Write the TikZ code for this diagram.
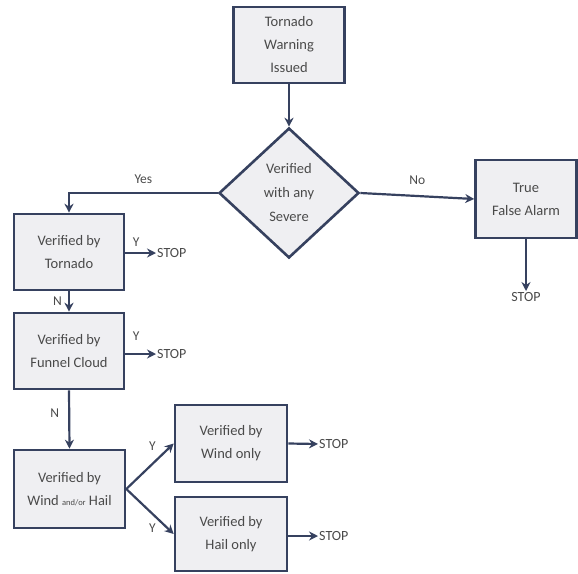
\documentclass[tikz,border=0pt]{standalone}
\usepackage{fontspec}
\setmainfont{Carlito}
\usetikzlibrary{shapes.geometric,arrows.meta}
\definecolor{bordercol}{HTML}{36415F}
\definecolor{fillcol}{HTML}{EFEFF2}
\definecolor{textcol}{HTML}{4A4A4A}
\tikzset{
  box/.style={draw=bordercol, fill=fillcol, line width=2.6pt, inner sep=0pt,
    align=center, text=textcol, font=\fontsize{14.5}{23}\selectfont},
  decision/.style={shape=diamond, draw=bordercol, fill=fillcol, line width=2.6pt,
    inner sep=0pt, align=center, text=textcol, font=\fontsize{14.5}{24}\selectfont,
    minimum width=140pt, minimum height=130pt},
  conn/.style={draw=bordercol, line width=2.2pt, -{Stealth[length=9pt,width=9pt]}},
  lbl/.style={text=textcol, font=\fontsize{13.5}{15}\selectfont, inner sep=1pt},
  stoplbl/.style={text=textcol, font=\fontsize{14}{15}\selectfont, inner sep=1pt}
}
\begin{document}
\begin{tikzpicture}[x=1pt,y=-1pt]
\useasboundingbox (0,0) rectangle (578,573);
\node[box, minimum width=111pt, minimum height=76pt] (warn) at (289,45) {Tornado\\Warning\\Issued};
\node[decision] (sev) at (289,193) {Verified\\with any\\Severe};
\node[box, minimum width=101pt, minimum height=78pt] (fa) at (526,199) {True\\False Alarm};
\node[stoplbl, anchor=north] (stopfa) at (526,291) {STOP};
\node[box, minimum width=110pt, minimum height=76pt] (tor) at (69,252) {Verified by\\Tornado};
\node[box, minimum width=110pt, minimum height=76pt] (fun) at (69,351) {Verified by\\Funnel Cloud};
\node[box, minimum width=111pt, minimum height=78pt] (wh) at (69.5,489) {Verified by\\Wind {\fontsize{8.5}{10}\selectfont and/or} Hail};
\node[box, minimum width=112pt, minimum height=77pt] (wind) at (231,443.5) {Verified by\\Wind only};
\node[box, minimum width=112pt, minimum height=74pt] (hail) at (231,534) {Verified by\\Hail only};
\node[stoplbl, anchor=west] (stop1) at (156,253) {STOP};
\node[stoplbl, anchor=west] (stop2) at (156,354) {STOP};
\node[stoplbl, anchor=west] (stop3) at (318,444) {STOP};
\node[stoplbl, anchor=west] (stop4) at (318,536) {STOP};

\draw[conn] (warn.south) -- (sev.north);
\draw[conn] (sev.east) -- (fa.west) node[lbl, pos=0.5, above=9pt] (no) {No};
\draw[conn] (sev.west) -| (tor.north) node[lbl, pos=0.25, above=7pt] (yes) {Yes};
\draw[conn] (fa.south) -- (stopfa.north);
\draw[conn] (tor.east |- stop1) -- (stop1.west) node[lbl, pos=0.35, above=4pt] (y1) {Y};
\draw[conn] (fun.east |- stop2) -- (stop2.west) node[lbl, pos=0.35, above=11pt] (y2) {Y};
\draw[conn] (tor.south) -- (fun.north) node[lbl, midway, left=5pt] (n1) {N};
\draw[conn] (fun.south) -- (wh.north) node[lbl, pos=0.4, left=8pt] (n2) {N};
\draw[conn] (wh.east) -- (wind.west) node[lbl, pos=0.55, above=11pt] (y3) {Y};
\draw[conn] (wh.east) -- (hail.west) node[lbl, pos=0.55, below=8pt] (y4) {Y};
\draw[conn] (wind.east) -- (stop3.west);
\draw[conn] (hail.east |- stop4) -- (stop4.west);
\end{tikzpicture}
\end{document}
